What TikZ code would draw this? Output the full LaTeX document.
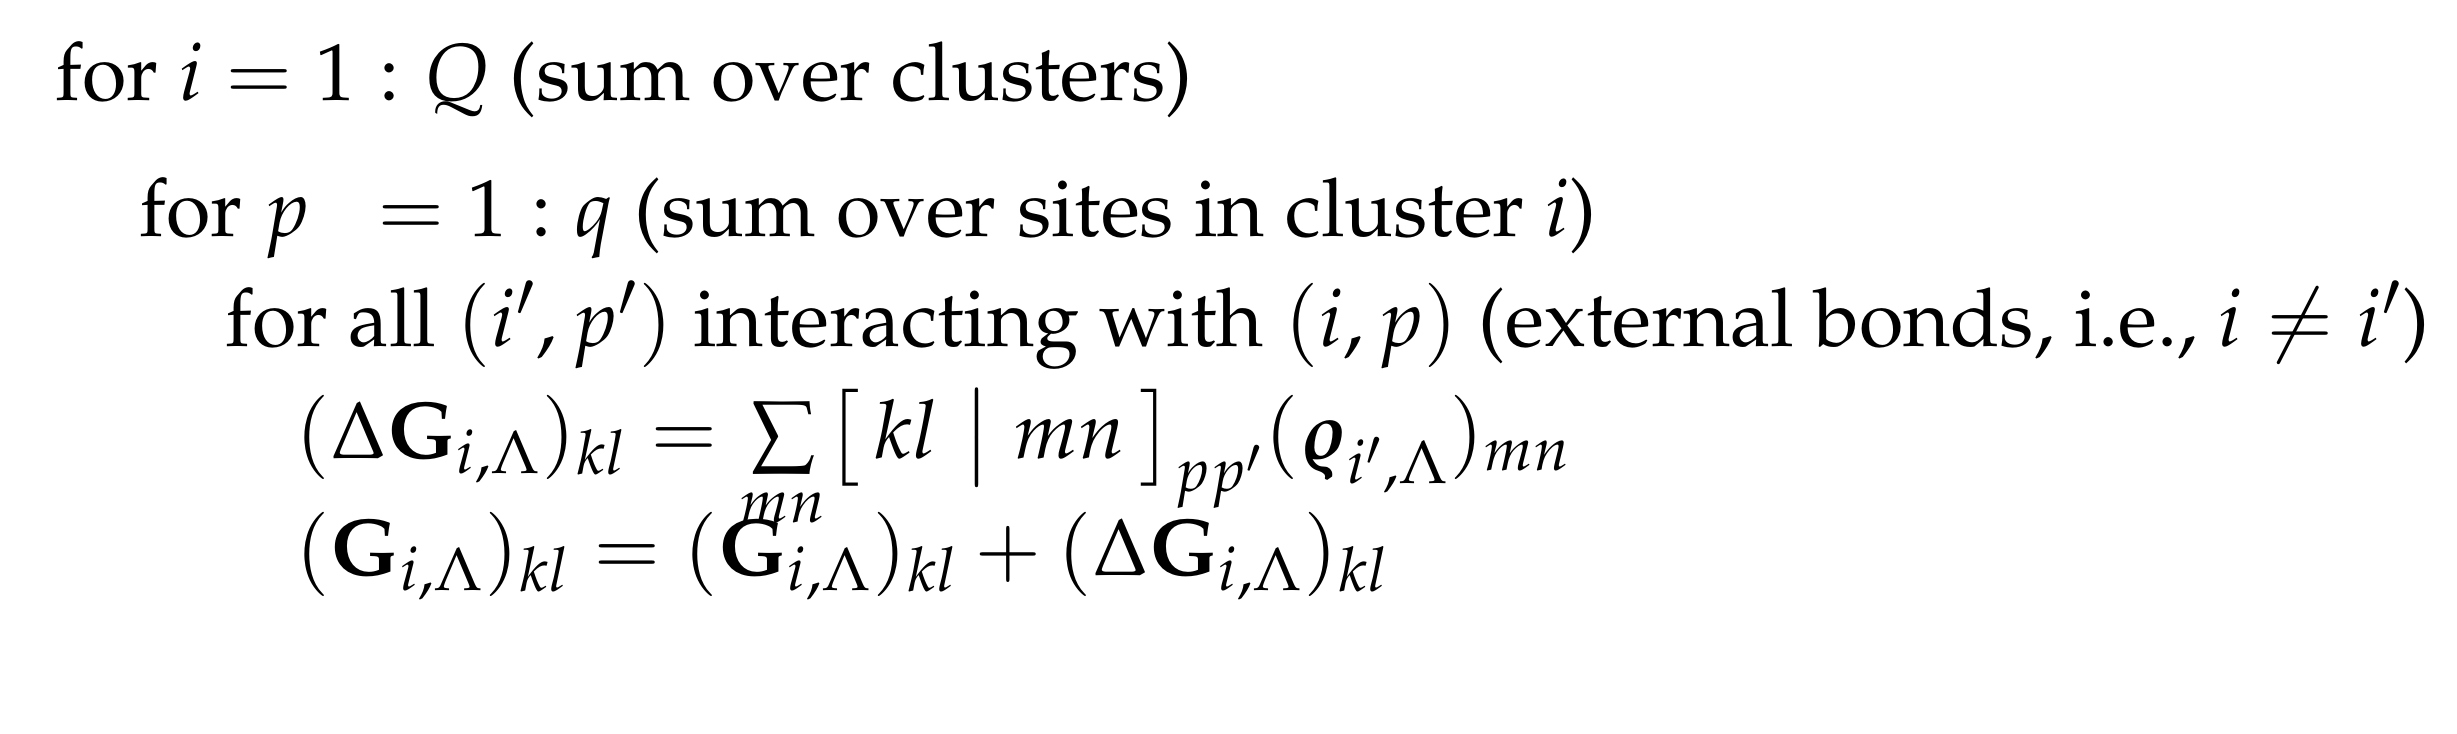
\documentclass[tikz,border=0pt]{standalone}
\usepackage[T1]{fontenc}
\usepackage{mathpazo}
\usepackage{amsmath}
\begin{document}
\begin{tikzpicture}[x=0.01cm,y=-0.01cm,
  ln/.style={anchor=base west,inner sep=0pt,font=\fontsize{23}{28}\selectfont}]
\useasboundingbox (0,0) rectangle (2457,733);
\node[ln] (l1) at (55,100) {for $i=1:Q$ (sum over clusters)};
\node[ln] (l2) at (139,236) {for $p\;\;=1:q$ (sum over sites in cluster $i$)};
\node[ln] (l3) at (225,346) {for all $(i',p')$ interacting with $(i,p)$ (external bonds, i.e., $i\neq i'$)};
\node[ln] (l4) at (295,458) {$(\Delta\mathbf{G}_{i,\Lambda})_{kl}=\sum\limits_{mn}\bigl[\,kl\bigm|mn\,\bigr]_{pp'}(\boldsymbol{\varrho}_{i',\Lambda})_{mn}$};
\node[ln] (l5) at (295,575) {$(\mathbf{G}_{i,\Lambda})_{kl}=(\mathbf{G}_{i,\Lambda})_{kl}+(\Delta\mathbf{G}_{i,\Lambda})_{kl}$};
\end{tikzpicture}
\end{document}
